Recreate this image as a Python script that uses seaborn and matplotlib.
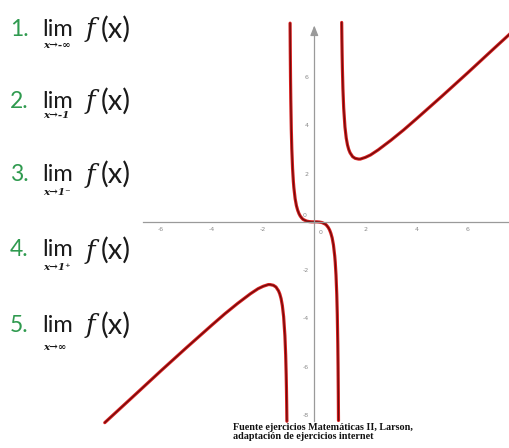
import matplotlib
matplotlib.use("Agg")
import matplotlib.pyplot as plt
import matplotlib.patheffects as pe
import numpy as np
import pandas as pd
import seaborn as sns

# Graph of f(x) with asymptotes x = -1, x = 1 and y = x
left_x = [-8.2, -7, -6, -5, -4, -3.5, -3, -2.5, -2.2, -2, -1.8, -1.73, -1.6, -1.5,
          -1.4, -1.35, -1.3, -1.25, -1.2, -1.15, -1.12, -1.1, -1.09, -1.08, -1.072]
left_y = [-8.32, -7.15, -6.17, -5.21, -4.27, -3.81, -3.38, -2.98, -2.77, -2.67, -2.60,
          -2.60, -2.63, -2.70, -2.86, -2.99, -3.18, -3.47, -3.93, -4.72, -5.52, -6.34,
          -6.89, -7.57, -8.26]

mid_x = [-0.947, -0.94, -0.93, -0.92, -0.9, -0.88, -0.85, -0.82, -0.8, -0.75, -0.7,
         -0.65, -0.6, -0.55, -0.5, -0.45, -0.4, -0.3, -0.2, -0.1, 0,
         0.1, 0.2, 0.3, 0.4, 0.45, 0.5, 0.55, 0.6, 0.65, 0.7, 0.75, 0.8, 0.82, 0.85,
         0.88, 0.9, 0.92, 0.93, 0.94, 0.947]
mid_y = [8.23, 7.14, 5.95, 5.07, 3.84, 3.02, 2.21, 1.68, 1.42, 0.96, 0.67,
         0.48, 0.34, 0.24, 0.17, 0.11, 0.08, 0.03, 0.01, 0.00, 0,
         -0.00, -0.01, -0.03, -0.08, -0.11, -0.17, -0.24, -0.34, -0.48, -0.67, -0.96,
         -1.42, -1.68, -2.21, -3.02, -3.84, -5.07, -5.95, -7.14, -8.23]

right_x = [1.072, 1.08, 1.09, 1.1, 1.12, 1.15, 1.2, 1.25, 1.3, 1.35, 1.4, 1.5, 1.6,
           1.73, 1.8, 2, 2.2, 2.5, 3, 3.5, 4, 5, 6, 7, 7.7]
right_y = [8.26, 7.57, 6.89, 6.34, 5.52, 4.72, 3.93, 3.47, 3.18, 2.99, 2.86, 2.70,
           2.63, 2.60, 2.60, 2.67, 2.77, 2.98, 3.38, 3.81, 4.27, 5.21, 6.17, 7.15, 7.83]

x_major = [-6, -4, -2, 2, 4, 6]
x_minor = [-5, -3, -1, 1, 3, 5, 7]
y_major = [-8, -6, -4, -2, 2, 4, 6]
y_minor = [-7, -5, -3, -1, 1, 3, 5, 7]

items = [
    ("1.", "lim", "f(x)", "x\u2192-\u221e"),
    ("2.", "lim", "f(x)", "x\u2192-1"),
    ("3.", "lim", "f(x)", "x\u21921\u207b"),
    ("4.", "lim", "f(x)", "x\u21921\u207a"),
    ("5.", "lim", "f(x)", "x\u2192\u221e"),
]
footer = "Fuente ejercicios Matemáticas II, Larson,\nadaptación de ejercicios internet"

df = pd.concat([
    pd.DataFrame({"x": left_x, "y": left_y, "branch": "left"}),
    pd.DataFrame({"x": mid_x, "y": mid_y, "branch": "mid"}),
    pd.DataFrame({"x": right_x, "y": right_y, "branch": "right"}),
], ignore_index=True)

sns.set_theme(style="white")
W, H = 509, 448
fig = plt.figure(figsize=(W / 100, H / 100), dpi=100)
fig.patch.set_facecolor("white")
ax = fig.add_axes([0, 0, 1, 1])
ax.set_facecolor("white")
ax.set_xlim(-12.3, 7.62)
ax.set_ylim(-9.37, 9.19)

grey = "#9a9a9a"
for s in ("top", "right"):
    ax.spines[s].set_visible(False)
ax.spines["left"].set_position(("data", 0))
ax.spines["bottom"].set_position(("data", 0))
ax.spines["left"].set_bounds(-8.25, 8.05)
ax.spines["bottom"].set_bounds(-6.7, 7.62)
for s in ("left", "bottom"):
    ax.spines[s].set_color(grey)
    ax.spines[s].set_linewidth(0.9)

ax.set_xticks(x_major)
ax.set_xticks(x_minor, minor=True)
ax.set_yticks(y_major)
ax.set_yticks(y_minor, minor=True)
ax.set_xticklabels([str(v) for v in x_major])
ax.set_yticklabels([str(v) for v in y_major])
ax.tick_params(axis="both", which="both", direction="inout", color=grey,
               width=0.7, labelsize=4.5, labelcolor="#8a8a8a")
ax.tick_params(axis="both", which="major", length=4, pad=2)
ax.tick_params(axis="both", which="minor", length=3)
ax.text(0.25, -0.35, "0", fontsize=4.5, color="#8a8a8a", ha="center", va="top")
ax.text(-0.4, 0.15, "0", fontsize=4.5, color="#8a8a8a", ha="center", va="bottom")
ax.annotate("", xy=(0, 8.25), xytext=(0, 7.7),
            arrowprops=dict(arrowstyle="-|>,head_length=0.5,head_width=0.2",
                            color=grey, lw=0.9))

sns.lineplot(data=df, x="x", y="y", units="branch", estimator=None, sort=False,
             color="#6e0b0b", linewidth=0.9, ax=ax, legend=False,
             path_effects=[pe.Stroke(linewidth=2.3, foreground="#d61e1e"), pe.Normal()])
ax.set_xlabel("")
ax.set_ylabel("")

green = "#2f9a4f"
ink = "#1a1a1a"
rows = [29, 101, 174, 250, 325]
subs = [46, 116, 192, 267, 347]
for (num, lim, fx, sub), ry, sy in zip(items, rows, subs):
    fig.text(10 / W, 1 - ry / H, num, fontsize=16.5, color=green, family="Lato",
             ha="left", va="center")
    fig.text(42 / W, 1 - ry / H, lim, fontsize=17, color=ink, family="Lato",
             ha="left", va="center")
    fig.text(86 / W, 1 - (ry + 1) / H, "f", fontsize=18.5, color=ink,
             family="DejaVu Serif", style="italic", ha="left", va="center")
    fig.text(101 / W, 1 - ry / H, fx[1:], fontsize=21, color=ink, family="Lato",
             ha="left", va="center")
    fig.text(43 / W, 1 - sy / H, sub, fontsize=7.5, color=ink,
             family=["DejaVu Serif"], weight="bold", style="italic",
             ha="left", va="center")

fig.text(233 / W, 1 - 432 / H, footer, fontsize=7.3, color="#111111",
         family="Liberation Serif", weight="bold", ha="left", va="center",
         linespacing=1.1)

fig.savefig("out.png", dpi=100, facecolor="white")
